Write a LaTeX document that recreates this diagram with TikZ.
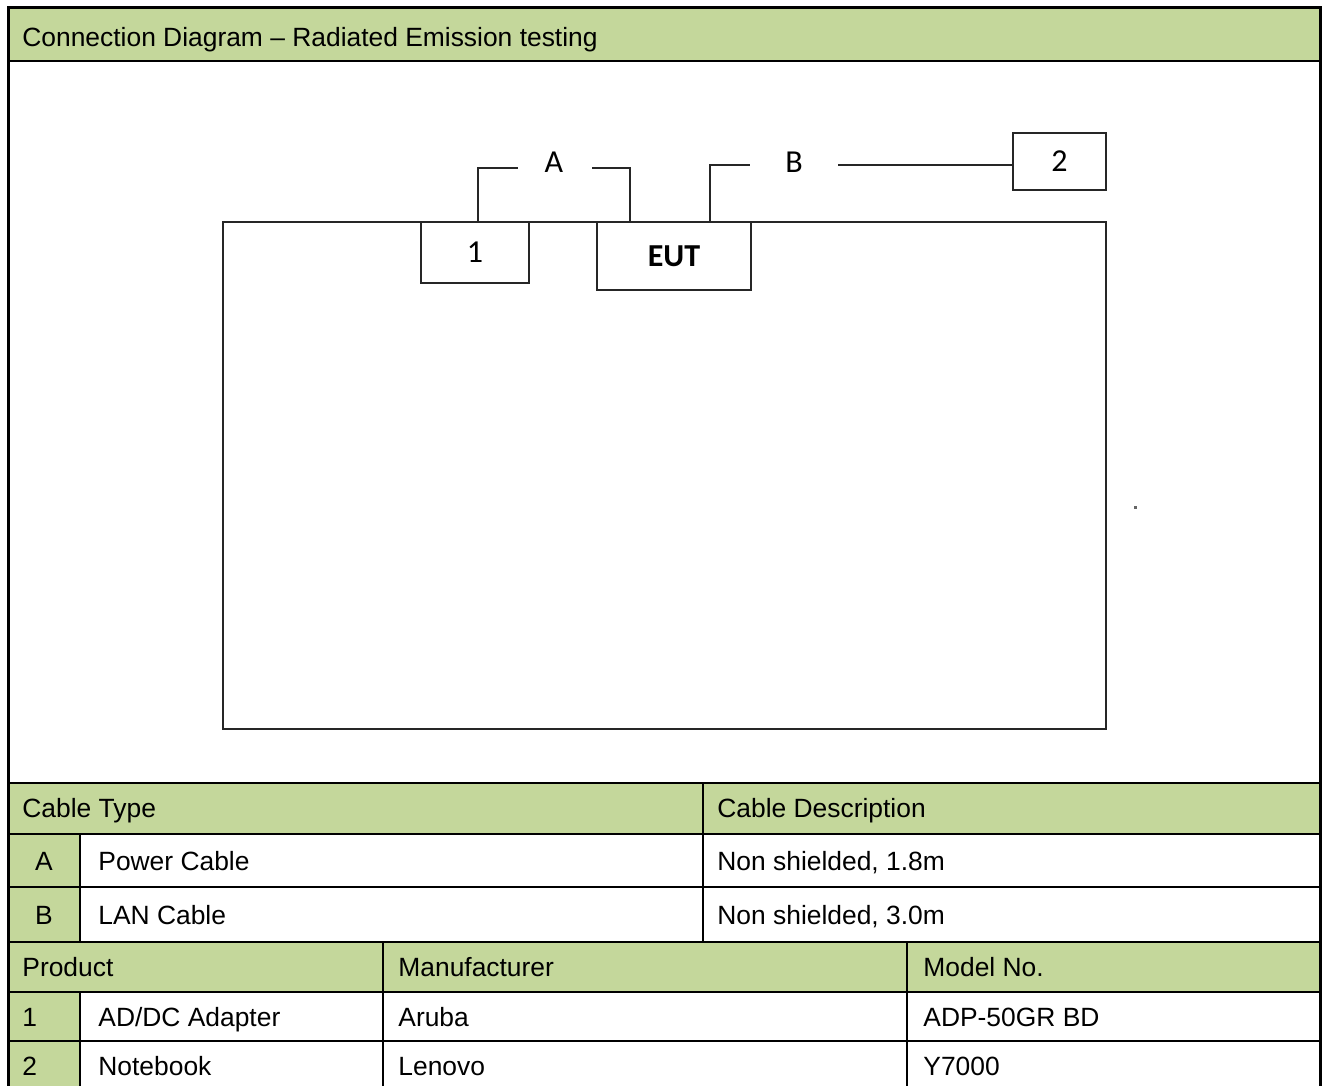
\documentclass[tikz,border=0pt]{standalone}
\usepackage{fontspec}
\setmainfont{Liberation Sans}
\newfontfamily\diagfont{Carlito}
\usepackage{xcolor}
\usetikzlibrary{positioning, calc}
\definecolor{headgreen}{RGB}{196,215,155}

\begin{document}
\begin{tikzpicture}[
    x=0.5pt, y=-0.5pt,
    frame/.style={line width=1.5pt},
    rule/.style={line width=1.3pt},
    cell/.style={anchor=base west, inner sep=0pt, font=\fontsize{13.2}{15}\selectfont},
    mark cell/.style={anchor=base, inner sep=0pt, font=\fontsize{13.2}{15}\selectfont},
    unit/.style={draw=black!85, line width=0.9pt, fill=white, inner sep=0pt, font=\diagfont\fontsize{16}{18}\selectfont},
    cable/.style={draw=black!85, line width=0.9pt},
    cablelabel/.style={inner sep=0pt, font=\diagfont\fontsize{16}{18}\selectfont}
]
\useasboundingbox (0,0) rectangle (1322,1086);

% green cells
\fill[headgreen] (8,8) rectangle (1320,61);
\fill[headgreen] (8,783) rectangle (1320,834);
\fill[headgreen] (8,834) rectangle (80,942);
\fill[headgreen] (8,942) rectangle (1320,992);
\fill[headgreen] (8,992) rectangle (80,1086);

% table rules
\draw[rule] (8,61) -- (1320,61);
\draw[rule] (8,783) -- (1320,783);
\draw[rule] (8,834) -- (1320,834);
\draw[rule] (8,887) -- (1320,887);
\draw[rule] (8,942) -- (1320,942);
\draw[rule] (8,992) -- (1320,992);
\draw[rule] (8,1041) -- (1320,1041);
\draw[rule] (80,834) -- (80,942);
\draw[rule] (703,783) -- (703,942);
\draw[rule] (80,992) -- (80,1086);
\draw[rule] (383,942) -- (383,1086);
\draw[rule] (907,942) -- (907,1086);

% outer frame
\draw[frame] (8,1086) -- (8,8) -- (1320,8) -- (1320,1086);

% title
\node[cell] (title) at (22,46.5) {Connection Diagram -- Radiated Emission testing};

% test setup
\node[draw=black!85, line width=0.9pt, minimum width=441.5pt, minimum height=253.5pt] (bench) at (664.5,475.5) {};
\node[unit, minimum width=54pt, minimum height=30.5pt] (one) at (475,252.5) {1};
\node[unit, minimum width=77pt, minimum height=34pt, font=\diagfont\bfseries\fontsize{16}{18}\selectfont] (eut) at (674,256) {EUT};
\node[unit, minimum width=46.5pt, minimum height=28.5pt] (two) at (1059.5,161.5) {2};

% cable A
\coordinate (aleft) at (518,168);
\coordinate (aright) at (592,168);
\coordinate (aeut) at (630,222);
\node[cablelabel] (labA) at (554,162) {A};
\draw[cable] ($(one.north)+(3,0)$) |- (aleft);
\draw[cable] (aright) -| (aeut);

% cable B
\coordinate (bleft) at (750,165);
\coordinate (bright) at (838,165);
\coordinate (beut) at (710,222);
\node[cablelabel] (labB) at (794,162) {B};
\draw[cable] (beut) |- (bleft);
\draw[cable] (bright) -- (bright -| two.west);

\fill[black!60] (1133.5,505.5) rectangle (1136.5,508.5);

% cable table
\node[cell] (ctype) at (22,817.5) {Cable Type};
\node[cell] (cdesc) at (717,817.5) {Cable Description};
\node[mark cell] (ca) at (44,870.5) {A};
\node[cell] (caname) at (98,870.5) {Power Cable};
\node[cell] (cadesc) at (717,870.5) {Non shielded, 1.8m};
\node[mark cell] (cb) at (44,924.5) {B};
\node[cell] (cbname) at (98,924.5) {LAN Cable};
\node[cell] (cbdesc) at (717,924.5) {Non shielded, 3.0m};

% product table
\node[cell] (prod) at (22,976.5) {Product};
\node[cell] (manu) at (398,976.5) {Manufacturer};
\node[cell] (model) at (923,976.5) {Model No.};
\node[cell] (p1) at (22,1026.5) {1};
\node[cell] (p1name) at (98,1026.5) {AD/DC Adapter};
\node[cell] (p1manu) at (398,1026.5) {Aruba};
\node[cell] (p1model) at (923,1026.5) {ADP-50GR BD};
\node[cell] (p2) at (22,1075.5) {2};
\node[cell] (p2name) at (98,1075.5) {Notebook};
\node[cell] (p2manu) at (398,1075.5) {Lenovo};
\node[cell] (p2model) at (923,1075.5) {Y7000};

\end{tikzpicture}
\end{document}
